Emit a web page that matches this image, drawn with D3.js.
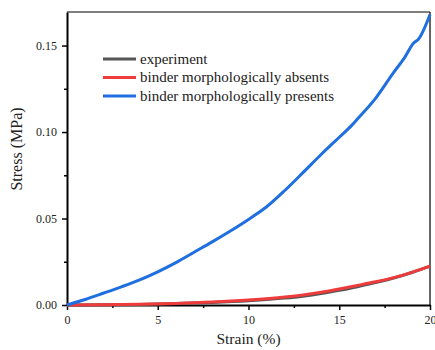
<!DOCTYPE html>
<html>
<head>
<meta charset="utf-8">
<script src="https://cdn.jsdelivr.net/npm/d3@7"></script>
<style>
  body { margin: 0; background: #fff; overflow: hidden; }
  svg { display: block; }
  text { font-family: "Liberation Serif", "Times New Roman", Times, serif; fill: #222; }
</style>
</head>
<body>
<div id="chart"></div>
<script>
const strainBlue = [0, 1, 2, 3, 4, 5, 6, 7, 8, 9, 10, 11, 12, 13, 14, 15, 15.7, 16, 17, 18, 18.6, 19.1, 19.35, 20];
const stressBlue = [0, 0.0032, 0.0068, 0.0105, 0.0145, 0.0192, 0.0245, 0.0305, 0.0365, 0.0428, 0.0495, 0.0568, 0.0662, 0.0765, 0.087, 0.097, 0.104, 0.1075, 0.1195, 0.1345, 0.143, 0.1515, 0.1535, 0.168];

const strainLow = [0, 2, 4, 6, 8, 10, 12, 13, 14, 15, 16, 17, 18, 19, 20];
const stressExp = [0, 0.0001, 0.0003, 0.0008, 0.0015, 0.0025, 0.0040, 0.0051, 0.0066, 0.0085, 0.0106, 0.0130, 0.0156, 0.0188, 0.0225];
const stressAbsent = [0, 0.0001, 0.0004, 0.0009, 0.0017, 0.0029, 0.0046, 0.0058, 0.0074, 0.0093, 0.0113, 0.0134, 0.0158, 0.0189, 0.0225];

const xTicks = [0, 5, 10, 15, 20];
const yTicks = [0, 0.05, 0.10, 0.15];
const legendLabels = ["experiment", "binder morphologically absents", "binder morphologically presents"];
const colors = ["#555555", "#ee3b3b", "#1f6fe0"];

const width = 435, height = 350;
const margin = { top: 12, right: 5, bottom: 45, left: 67 };
const innerWidth = width - margin.left - margin.right,
  innerHeight = height - margin.top - margin.bottom;

const svg = d3.select("#chart").append("svg")
  .attr("width", width)
  .attr("height", height);

const g = svg.append("g")
  .attr("transform", `translate(${margin.left},${margin.top})`);

const x = d3.scaleLinear().domain([0, 20]).range([0, innerWidth]);
const y = d3.scaleLinear().domain([0, 0.1694]).range([innerHeight, 0]);

// frame top and right
g.append("line").attr("x1", 0).attr("x2", innerWidth).attr("y1", 0).attr("y2", 0)
  .attr("stroke", "#000").attr("stroke-width", 1.2);
g.append("line").attr("x1", innerWidth).attr("x2", innerWidth).attr("y1", 0).attr("y2", innerHeight)
  .attr("stroke", "#000").attr("stroke-width", 1.2);

// minor ticks (no labels)
const xMinor = g.append("g").attr("transform", `translate(0,${innerHeight})`)
  .call(d3.axisBottom(x).tickValues([2.5, 7.5, 12.5, 17.5]).tickSize(3).tickFormat(""));
xMinor.select(".domain").remove();
xMinor.selectAll("text").remove();
xMinor.selectAll("line").attr("stroke-width", 1.5);

const yMinor = g.append("g")
  .call(d3.axisLeft(y).tickValues([0.025, 0.075, 0.125]).tickSize(3).tickFormat(""));
yMinor.select(".domain").remove();
yMinor.selectAll("text").remove();
yMinor.selectAll("line").attr("stroke-width", 1.5);

const xAxis = g.append("g").attr("transform", `translate(0,${innerHeight})`)
  .call(d3.axisBottom(x).tickValues(xTicks).tickSize(5).tickSizeOuter(0).tickPadding(5).tickFormat(d3.format("d")));
const yAxis = g.append("g")
  .call(d3.axisLeft(y).tickValues(yTicks).tickSize(5).tickSizeOuter(0).tickPadding(5).tickFormat(d3.format(".2f")));

[xAxis, yAxis].forEach(a => {
  a.select(".domain").attr("stroke-width", 2);
  a.selectAll(".tick line").attr("stroke-width", 1.5);
  a.selectAll("text").style("font-size", "12px").style("font-family", "Liberation Serif").attr("fill", "#333");
});

const line = d3.line().x(d => x(d[0])).y(d => y(d[1])).curve(d3.curveMonotoneX);

const series = [
  d3.zip(strainLow, stressExp),
  d3.zip(strainLow, stressAbsent),
  d3.zip(strainBlue, stressBlue)
];

g.selectAll(".curve")
  .data(series)
  .join("path")
  .attr("class", "curve")
  .attr("d", d => line(d))
  .attr("fill", "none")
  .attr("stroke", (d, i) => colors[i])
  .attr("stroke-width", 3)
  .attr("stroke-linejoin", "round");

// legend
const legend = g.append("g").attr("transform", "translate(36,47)");
legendLabels.forEach((lab, i) => {
  const row = legend.append("g").attr("transform", `translate(0,${i * 18.5})`);
  row.append("line").attr("x1", 0).attr("x2", 33).attr("y1", 0).attr("y2", 0)
    .attr("stroke", colors[i]).attr("stroke-width", 3);
  row.append("text").attr("x", 37).attr("y", 0).attr("dy", "0.33em")
    .style("font-size", "15px").text(lab);
});

// axis titles
svg.append("text")
  .attr("x", margin.left + x(10)).attr("y", 344)
  .attr("text-anchor", "middle").style("font-size", "15.5px")
  .text("Strain (%)");
svg.append("text")
  .attr("transform", `translate(22,149) rotate(-90)`)
  .attr("text-anchor", "middle").style("font-size", "16px")
  .text("Stress (MPa)");
</script>
</body>
</html>
